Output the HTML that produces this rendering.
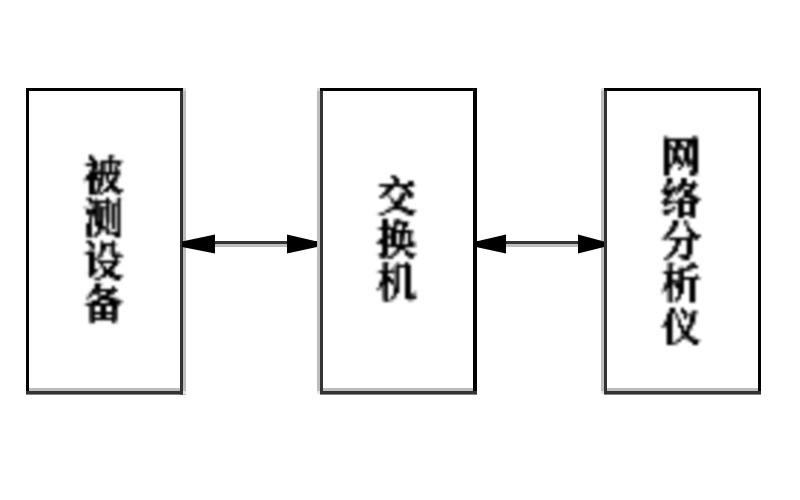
<!DOCTYPE html>
<html><head><meta charset="utf-8"><style>
html,body{margin:0;padding:0;background:#fff;width:800px;height:500px;overflow:hidden;font-family:"Liberation Serif",serif;}
svg{display:block;position:absolute;left:0;top:0;}
</style></head><body>
<svg width="800" height="500" viewBox="0 0 800 500">
<defs><filter id="bl" x="-5%" y="-5%" width="110%" height="110%"><feGaussianBlur stdDeviation="0.8"/></filter></defs>
<rect x="0" y="0" width="800" height="500" fill="#fff"/>
<g shape-rendering="crispEdges">
<!-- box1 -->
<rect x="183" y="91" width="3" height="300" fill="#bdbdbd"/>
<rect x="183" y="88" width="3" height="3" fill="#d8d8d8"/>
<rect x="183" y="391" width="3" height="3" fill="#e4e4e4"/>
<rect x="29" y="388" width="151" height="3" fill="#bdbdbd"/>
<rect x="26" y="88" width="157" height="3" fill="#000"/>
<rect x="26" y="88" width="3" height="303" fill="#000"/>
<rect x="180" y="91" width="3" height="300" fill="#333"/>
<!-- box2 -->
<rect x="317" y="91" width="3" height="300" fill="#bdbdbd"/>
<rect x="317" y="88" width="3" height="3" fill="#d8d8d8"/>
<rect x="317" y="391" width="3" height="3" fill="#e4e4e4"/>
<rect x="323" y="388" width="150" height="3" fill="#bdbdbd"/>
<rect x="320" y="88" width="157" height="3" fill="#000"/>
<rect x="320" y="91" width="3" height="300" fill="#333"/>
<rect x="473" y="88" width="4" height="303" fill="#000"/>
<!-- box3 -->
<rect x="601" y="91" width="3" height="300" fill="#bdbdbd"/>
<rect x="601" y="88" width="3" height="3" fill="#d8d8d8"/>
<rect x="601" y="391" width="3" height="3" fill="#e4e4e4"/>
<rect x="607" y="388" width="151" height="3" fill="#bdbdbd"/>
<rect x="604" y="88" width="157" height="3" fill="#000"/>
<rect x="604" y="91" width="3" height="300" fill="#333"/>
<rect x="758" y="88" width="3" height="303" fill="#000"/>
<!-- arrow lines -->
<rect x="186" y="241" width="131" height="3" fill="#333"/>
<rect x="186" y="244" width="131" height="3" fill="#bdbdbd"/>
<rect x="477" y="241" width="124" height="3" fill="#333"/>
<rect x="477" y="244" width="124" height="3" fill="#bdbdbd"/>
</g>
<rect x="26" y="391" width="160" height="3.6" fill="#333"/>
<rect x="320" y="391" width="157" height="3.6" fill="#333"/>
<rect x="604" y="391" width="157" height="3.6" fill="#333"/>
<rect x="180" y="391" width="3" height="3.6" fill="#333"/>
<rect x="183" y="391" width="3" height="3.6" fill="#e4e4e4"/>
<g fill="#000">
<polygon points="182,241.5 215,234.5 215,253.5 182,247"/>
<polygon points="287,234.5 287,253.5 317,247 317,241.5"/>
<polygon points="476,241.5 506,234.5 506,253.5 476,247"/>
<polygon points="578,234.5 578,253.5 604,247 604,241.5"/>
</g>
<g fill="#000" filter="url(#bl)">
<path fill-opacity="0.1" d="M106.16 154.80h2.86v2.86h-2.86zM106.16 157.66h2.86v2.86h-2.86zM89.01 160.51h2.86v2.86h-2.86zM106.16 163.37h2.86v2.86h-2.86zM106.16 166.23h2.86v2.86h-2.86zM106.16 169.09h2.86v2.86h-2.86zM103.30 177.66h2.86v2.86h-2.86zM94.73 180.51h2.86v2.86h-2.86zM114.73 197.60h2.86v2.86h-2.86zM120.44 197.60h2.86v2.86h-2.86zM103.30 217.60h2.86v2.86h-2.86zM111.87 234.74h2.86v2.86h-2.86zM111.87 257.54h2.86v2.86h-2.86zM97.59 268.97h2.86v2.86h-2.86zM86.16 271.83h2.86v2.86h-2.86zM97.59 274.69h2.86v2.86h-2.86zM106.16 274.69h2.86v2.86h-2.86zM91.87 277.54h2.86v2.86h-2.86zM100.44 277.54h2.86v2.86h-2.86zM91.87 286.06h2.86v2.86h-2.86zM376.50 183.97h2.86v2.86h-2.86zM402.21 189.69h2.86v2.86h-2.86zM390.79 195.40h2.86v2.86h-2.86zM382.21 209.69h2.86v2.86h-2.86zM385.07 212.54h2.86v2.86h-2.86zM376.50 238.65h2.86v2.86h-2.86zM379.36 244.36h2.86v2.86h-2.86zM393.64 261.90h2.86v2.86h-2.86zM387.93 281.90h2.86v2.86h-2.86zM390.79 293.33h2.86v2.86h-2.86zM689.57 147.13h2.86v2.86h-2.86zM678.14 149.99h2.86v2.86h-2.86zM678.14 164.27h2.86v2.86h-2.86zM681.00 189.43h2.86v2.86h-2.86zM692.43 189.43h2.86v2.86h-2.86zM672.43 192.29h2.86v2.86h-2.86zM675.29 206.57h2.86v2.86h-2.86zM661.00 212.29h2.86v2.86h-2.86zM672.43 276.89h2.86v2.86h-2.86zM675.29 310.61h2.86v2.86h-2.86zM675.29 319.19h2.86v2.86h-2.86zM686.71 322.04h2.86v2.86h-2.86z"/>
<path fill-opacity="0.2" d="M111.87 157.66h2.86v2.86h-2.86zM83.30 163.37h2.86v2.86h-2.86zM111.87 163.37h2.86v2.86h-2.86zM111.87 166.23h2.86v2.86h-2.86zM111.87 169.09h2.86v2.86h-2.86zM83.30 180.51h2.86v2.86h-2.86zM100.44 186.23h2.86v2.86h-2.86zM86.16 206.17h2.86v2.86h-2.86zM97.59 266.11h2.86v2.86h-2.86zM117.59 297.49h2.86v2.86h-2.86zM83.30 303.20h2.86v2.86h-2.86zM413.64 183.97h2.86v2.86h-2.86zM390.79 209.69h2.86v2.86h-2.86zM376.50 212.54h2.86v2.86h-2.86zM407.93 221.51h2.86v2.86h-2.86zM410.79 235.79h2.86v2.86h-2.86zM410.79 238.65h2.86v2.86h-2.86zM405.07 247.22h2.86v2.86h-2.86zM402.21 250.08h2.86v2.86h-2.86zM376.50 252.94h2.86v2.86h-2.86zM396.50 252.94h2.86v2.86h-2.86zM387.93 261.90h2.86v2.86h-2.86zM407.93 261.90h2.86v2.86h-2.86zM666.71 135.70h2.86v2.86h-2.86zM672.43 183.71h2.86v2.86h-2.86zM661.00 192.29h2.86v2.86h-2.86zM669.57 206.57h2.86v2.86h-2.86zM678.14 220.30h2.86v2.86h-2.86zM678.14 265.46h2.86v2.86h-2.86zM661.00 271.17h2.86v2.86h-2.86zM672.43 299.74h2.86v2.86h-2.86zM666.71 310.61h2.86v2.86h-2.86zM689.57 310.61h2.86v2.86h-2.86zM695.29 313.47h2.86v2.86h-2.86zM683.86 327.76h2.86v2.86h-2.86z"/>
<path fill-opacity="0.3" d="M91.87 154.80h2.86v2.86h-2.86zM111.87 174.80h2.86v2.86h-2.86zM114.73 200.46h2.86v2.86h-2.86zM109.01 203.31h2.86v2.86h-2.86zM83.30 206.17h2.86v2.86h-2.86zM109.01 206.17h2.86v2.86h-2.86zM114.73 206.17h2.86v2.86h-2.86zM109.01 209.03h2.86v2.86h-2.86zM114.73 209.03h2.86v2.86h-2.86zM103.30 211.89h2.86v2.86h-2.86zM109.01 211.89h2.86v2.86h-2.86zM114.73 211.89h2.86v2.86h-2.86zM103.30 214.74h2.86v2.86h-2.86zM109.01 214.74h2.86v2.86h-2.86zM114.73 214.74h2.86v2.86h-2.86zM109.01 217.60h2.86v2.86h-2.86zM114.73 217.60h2.86v2.86h-2.86zM109.01 220.46h2.86v2.86h-2.86zM114.73 220.46h2.86v2.86h-2.86zM114.73 223.31h2.86v2.86h-2.86zM114.73 226.17h2.86v2.86h-2.86zM109.01 229.03h2.86v2.86h-2.86zM114.73 229.03h2.86v2.86h-2.86zM89.01 246.11h2.86v2.86h-2.86zM83.30 251.83h2.86v2.86h-2.86zM94.73 271.83h2.86v2.86h-2.86zM91.87 274.69h2.86v2.86h-2.86zM100.44 283.20h2.86v2.86h-2.86zM86.16 294.63h2.86v2.86h-2.86zM89.01 300.34h2.86v2.86h-2.86zM399.36 186.83h2.86v2.86h-2.86zM387.93 192.54h2.86v2.86h-2.86zM399.36 209.69h2.86v2.86h-2.86zM376.50 227.22h2.86v2.86h-2.86zM402.21 241.51h2.86v2.86h-2.86zM376.50 270.47h2.86v2.86h-2.86zM379.36 279.04h2.86v2.86h-2.86zM379.36 287.61h2.86v2.86h-2.86zM413.64 290.47h2.86v2.86h-2.86zM390.79 299.04h2.86v2.86h-2.86zM410.79 299.04h2.86v2.86h-2.86zM669.57 167.13h2.86v2.86h-2.86zM672.43 198.00h2.86v2.86h-2.86zM661.00 209.43h2.86v2.86h-2.86zM672.43 209.43h2.86v2.86h-2.86zM686.71 220.30h2.86v2.86h-2.86zM686.71 234.59h2.86v2.86h-2.86zM689.57 254.59h2.86v2.86h-2.86zM681.00 265.46h2.86v2.86h-2.86zM661.00 288.31h2.86v2.86h-2.86zM661.00 291.17h2.86v2.86h-2.86zM678.14 316.33h2.86v2.86h-2.86zM678.14 336.33h2.86v2.86h-2.86zM686.71 339.19h2.86v2.86h-2.86z"/>
<path fill-opacity="0.4" d="M97.59 163.37h2.86v2.86h-2.86zM103.30 174.80h2.86v2.86h-2.86zM117.59 174.80h2.86v2.86h-2.86zM83.30 177.66h2.86v2.86h-2.86zM89.01 203.31h2.86v2.86h-2.86zM103.30 209.03h2.86v2.86h-2.86zM103.30 229.03h2.86v2.86h-2.86zM114.73 243.26h2.86v2.86h-2.86zM109.01 246.11h2.86v2.86h-2.86zM91.87 248.97h2.86v2.86h-2.86zM109.01 248.97h2.86v2.86h-2.86zM97.59 251.83h2.86v2.86h-2.86zM109.01 251.83h2.86v2.86h-2.86zM111.87 268.97h2.86v2.86h-2.86zM111.87 277.54h2.86v2.86h-2.86zM109.01 294.63h2.86v2.86h-2.86zM106.16 300.34h2.86v2.86h-2.86zM114.73 320.34h2.86v2.86h-2.86zM399.36 218.65h2.86v2.86h-2.86zM396.50 224.36h2.86v2.86h-2.86zM387.93 232.94h2.86v2.86h-2.86zM410.79 232.94h2.86v2.86h-2.86zM413.64 241.51h2.86v2.86h-2.86zM407.93 250.08h2.86v2.86h-2.86zM407.93 299.04h2.86v2.86h-2.86zM681.00 158.56h2.86v2.86h-2.86zM669.57 161.41h2.86v2.86h-2.86zM675.29 161.41h2.86v2.86h-2.86zM683.86 161.41h2.86v2.86h-2.86zM695.29 172.84h2.86v2.86h-2.86zM666.71 186.57h5.71v2.86h-5.71zM681.00 195.14h2.86v2.86h-2.86zM695.29 195.14h2.86v2.86h-2.86zM666.71 203.71h2.86v2.86h-2.86zM661.00 237.44h2.86v2.86h-2.86zM666.71 237.44h2.86v2.86h-2.86zM672.43 262.60h2.86v2.86h-2.86zM663.86 319.19h2.86v2.86h-2.86zM698.14 339.19h2.86v2.86h-2.86z"/>
<path fill-opacity="0.5" d="M120.44 160.51h2.86v2.86h-2.86zM89.01 169.09h2.86v2.86h-2.86zM114.73 191.94h2.86v2.86h-2.86zM94.73 197.60h2.86v2.86h-2.86zM91.87 203.31h2.86v2.86h-2.86zM100.44 229.03h2.86v2.86h-2.86zM91.87 234.74h2.86v2.86h-2.86zM117.59 251.83h2.86v2.86h-2.86zM97.59 257.54h2.86v2.86h-2.86zM100.44 266.11h2.86v2.86h-2.86zM120.44 300.34h2.86v2.86h-2.86zM399.36 192.54h2.86v2.86h-2.86zM387.93 206.83h2.86v2.86h-2.86zM405.07 212.54h2.86v2.86h-2.86zM387.93 224.36h2.86v2.86h-2.86zM413.64 244.36h2.86v2.86h-2.86zM393.64 264.76h2.86v2.86h-2.86zM390.79 267.61h5.71v2.86h-5.71zM393.64 273.33h2.86v2.86h-2.86zM393.64 276.19h2.86v2.86h-2.86zM393.64 279.04h2.86v2.86h-2.86zM413.64 293.33h2.86v2.86h-2.86zM393.64 296.19h2.86v2.86h-2.86zM382.21 299.04h2.86v2.86h-2.86zM387.93 299.04h2.86v2.86h-2.86zM695.29 135.70h2.86v2.86h-2.86zM663.86 183.71h2.86v2.86h-2.86zM686.71 223.16h2.86v2.86h-2.86zM675.29 226.01h2.86v2.86h-2.86zM666.71 262.60h2.86v2.86h-2.86zM666.71 265.46h2.86v2.86h-2.86zM666.71 268.31h2.86v2.86h-2.86zM689.57 268.31h2.86v2.86h-2.86zM698.14 276.89h2.86v2.86h-2.86zM666.71 288.31h2.86v2.86h-2.86zM666.71 291.17h2.86v2.86h-2.86zM666.71 294.03h2.86v2.86h-2.86zM666.71 296.89h2.86v2.86h-2.86zM666.71 299.74h2.86v2.86h-2.86zM689.57 327.76h2.86v2.86h-2.86zM692.43 336.33h2.86v2.86h-2.86zM675.29 342.04h2.86v2.86h-2.86z"/>
<path fill-opacity="0.6" d="M111.87 154.80h2.86v2.86h-2.86zM114.73 163.37h2.86v2.86h-2.86zM97.59 169.09h2.86v2.86h-2.86zM117.59 169.09h2.86v2.86h-2.86zM114.73 180.51h2.86v2.86h-2.86zM94.73 189.09h2.86v2.86h-2.86zM97.59 191.94h2.86v2.86h-2.86zM91.87 214.74h2.86v2.86h-2.86zM89.01 248.97h2.86v2.86h-2.86zM114.73 251.83h2.86v2.86h-2.86zM117.59 260.40h2.86v2.86h-2.86zM89.01 291.77h2.86v2.86h-2.86zM86.16 297.49h2.86v2.86h-2.86zM114.73 297.49h2.86v2.86h-2.86zM385.07 186.83h2.86v2.86h-2.86zM396.50 198.26h2.86v2.86h-2.86zM390.79 201.11h2.86v2.86h-2.86zM413.64 209.69h2.86v2.86h-2.86zM393.64 218.65h2.86v2.86h-2.86zM393.64 250.08h2.86v2.86h-2.86zM390.79 252.94h2.86v2.86h-2.86zM413.64 252.94h2.86v2.86h-2.86zM385.07 255.79h2.86v2.86h-2.86zM396.50 261.90h2.86v2.86h-2.86zM393.64 281.90h2.86v2.86h-2.86zM689.57 164.27h2.86v2.86h-2.86zM675.29 189.43h2.86v2.86h-2.86zM669.57 195.14h2.86v2.86h-2.86zM672.43 200.86h2.86v2.86h-2.86zM692.43 237.44h2.86v2.86h-2.86zM695.29 310.61h2.86v2.86h-2.86zM686.71 313.47h2.86v2.86h-2.86zM692.43 322.04h2.86v2.86h-2.86zM661.00 324.90h2.86v2.86h-2.86zM681.00 333.47h2.86v2.86h-2.86zM675.29 339.19h2.86v2.86h-2.86z"/>
<path fill-opacity="0.7" d="M103.30 163.37h2.86v2.86h-2.86zM103.30 166.23h2.86v2.86h-2.86zM94.73 169.09h2.86v2.86h-2.86zM103.30 169.09h2.86v2.86h-2.86zM106.16 180.51h2.86v2.86h-2.86zM86.16 197.60h2.86v2.86h-2.86zM91.87 206.17h2.86v2.86h-2.86zM106.16 226.17h2.86v2.86h-2.86zM109.01 231.89h2.86v2.86h-2.86zM103.30 248.97h2.86v2.86h-2.86zM100.44 254.69h2.86v2.86h-2.86zM120.44 274.69h2.86v2.86h-2.86zM97.59 294.63h2.86v2.86h-2.86zM117.59 303.20h2.86v2.86h-2.86zM89.01 320.34h2.86v2.86h-2.86zM382.21 195.40h2.86v2.86h-2.86zM387.93 195.40h2.86v2.86h-2.86zM410.79 195.40h2.86v2.86h-2.86zM399.36 203.97h2.86v2.86h-2.86zM410.79 230.08h2.86v2.86h-2.86zM402.21 238.65h2.86v2.86h-2.86zM379.36 255.79h2.86v2.86h-2.86zM382.21 261.90h2.86v2.86h-2.86zM382.21 264.76h2.86v2.86h-2.86zM382.21 267.61h2.86v2.86h-2.86zM376.50 287.61h2.86v2.86h-2.86zM382.21 287.61h2.86v2.86h-2.86zM382.21 290.47h2.86v2.86h-2.86zM382.21 293.33h2.86v2.86h-2.86zM382.21 296.19h2.86v2.86h-2.86zM663.86 135.70h2.86v2.86h-2.86zM675.29 192.29h2.86v2.86h-2.86zM698.14 198.00h2.86v2.86h-2.86zM661.00 200.86h2.86v2.86h-2.86zM683.86 223.16h2.86v2.86h-2.86zM669.57 226.01h2.86v2.86h-2.86zM663.86 234.59h2.86v2.86h-2.86zM678.14 243.16h2.86v2.86h-2.86zM678.14 254.59h2.86v2.86h-2.86zM666.71 257.44h2.86v2.86h-2.86zM681.00 257.44h2.86v2.86h-2.86zM695.29 274.03h2.86v2.86h-2.86zM663.86 282.60h2.86v2.86h-2.86zM672.43 282.60h2.86v2.86h-2.86zM675.29 299.74h2.86v2.86h-2.86zM675.29 316.33h2.86v2.86h-2.86zM663.86 324.90h2.86v2.86h-2.86zM683.86 336.33h2.86v2.86h-2.86z"/>
<path fill-opacity="0.8" d="M109.01 200.46h2.86v2.86h-2.86zM114.73 203.31h2.86v2.86h-2.86zM103.30 206.17h2.86v2.86h-2.86zM86.16 234.74h2.86v2.86h-2.86zM100.44 240.40h2.86v2.86h-2.86zM120.44 254.69h2.86v2.86h-2.86zM94.73 257.54h2.86v2.86h-2.86zM111.87 291.77h2.86v2.86h-2.86zM89.01 306.06h2.86v2.86h-2.86zM89.01 308.91h2.86v2.86h-2.86zM89.01 311.77h2.86v2.86h-2.86zM89.01 314.63h2.86v2.86h-2.86zM89.01 317.49h2.86v2.86h-2.86zM405.07 192.54h2.86v2.86h-2.86zM405.07 206.83h2.86v2.86h-2.86zM376.50 241.51h2.86v2.86h-2.86zM407.93 255.79h2.86v2.86h-2.86zM393.64 270.47h2.86v2.86h-2.86zM382.21 284.76h2.86v2.86h-2.86zM393.64 284.76h2.86v2.86h-2.86zM410.79 293.33h2.86v2.86h-2.86zM669.57 144.27h2.86v2.86h-2.86zM681.00 144.27h2.86v2.86h-2.86zM678.14 155.70h2.86v2.86h-2.86zM689.57 158.56h2.86v2.86h-2.86zM686.71 164.27h2.86v2.86h-2.86zM695.29 183.71h2.86v2.86h-2.86zM675.29 186.57h2.86v2.86h-2.86zM661.00 189.43h2.86v2.86h-2.86zM666.71 198.00h2.86v2.86h-2.86zM689.57 215.14h2.86v2.86h-2.86zM666.71 254.59h2.86v2.86h-2.86zM689.57 262.60h2.86v2.86h-2.86zM678.14 268.31h2.86v2.86h-2.86zM678.14 274.03h2.86v2.86h-2.86zM678.14 276.89h2.86v2.86h-2.86zM678.14 296.89h2.86v2.86h-2.86zM672.43 342.04h2.86v2.86h-2.86z"/>
<path fill-opacity="0.9" d="M114.73 166.23h2.86v2.86h-2.86zM97.59 180.51h2.86v2.86h-2.86zM111.87 189.09h2.86v2.86h-2.86zM120.44 189.09h2.86v2.86h-2.86zM97.59 203.31h2.86v2.86h-2.86zM97.59 206.17h2.86v2.86h-2.86zM89.01 209.03h2.86v2.86h-2.86zM97.59 209.03h2.86v2.86h-2.86zM97.59 211.89h2.86v2.86h-2.86zM89.01 214.74h2.86v2.86h-2.86zM97.59 214.74h2.86v2.86h-2.86zM97.59 217.60h2.86v2.86h-2.86zM106.16 223.31h2.86v2.86h-2.86zM86.16 229.03h2.86v2.86h-2.86zM94.73 231.89h2.86v2.86h-2.86zM94.73 234.74h2.86v2.86h-2.86zM86.16 240.40h2.86v2.86h-2.86zM94.73 277.54h2.86v2.86h-2.86zM94.73 291.77h5.71v2.86h-5.71zM114.73 308.91h2.86v2.86h-2.86zM114.73 311.77h2.86v2.86h-2.86zM114.73 314.63h2.86v2.86h-2.86zM114.73 317.49h2.86v2.86h-2.86zM393.64 181.11h2.86v2.86h-2.86zM402.21 198.26h2.86v2.86h-2.86zM379.36 212.54h5.71v2.86h-5.71zM387.93 235.79h2.86v2.86h-2.86zM402.21 235.79h2.86v2.86h-2.86zM387.93 244.36h2.86v2.86h-2.86zM390.79 255.79h2.86v2.86h-2.86zM692.43 135.70h2.86v2.86h-2.86zM689.57 144.27h2.86v2.86h-2.86zM669.57 147.13h2.86v2.86h-2.86zM678.14 147.13h5.71v2.86h-5.71zM672.43 152.84h2.86v2.86h-2.86zM689.57 169.99h2.86v2.86h-2.86zM678.14 183.71h2.86v2.86h-2.86zM689.57 192.29h2.86v2.86h-2.86zM678.14 198.00h2.86v2.86h-2.86zM689.57 198.00h2.86v2.86h-2.86zM675.29 200.86h2.86v2.86h-2.86zM666.71 212.29h2.86v2.86h-2.86zM698.14 234.59h2.86v2.86h-2.86zM663.86 237.44h2.86v2.86h-2.86zM672.43 246.01h2.86v2.86h-2.86zM663.86 257.44h2.86v2.86h-2.86zM686.71 268.31h2.86v2.86h-2.86zM675.29 279.74h5.71v2.86h-5.71zM663.86 288.31h2.86v2.86h-2.86zM675.29 313.47h2.86v2.86h-2.86zM689.57 313.47h2.86v2.86h-2.86z"/>
<path d="M89.01 154.80h2.86v2.86h-2.86zM109.01 154.80h2.86v2.86h-2.86zM89.01 157.66h5.71v2.86h-5.71zM109.01 157.66h2.86v2.86h-2.86zM91.87 160.51h5.71v2.86h-5.71zM100.44 160.51h20.00v2.86h-20.00zM86.16 163.37h11.43v2.86h-11.43zM100.44 163.37h2.86v2.86h-2.86zM109.01 163.37h2.86v2.86h-2.86zM117.59 163.37h2.86v2.86h-2.86zM91.87 166.23h5.71v2.86h-5.71zM100.44 166.23h2.86v2.86h-2.86zM109.01 166.23h2.86v2.86h-2.86zM91.87 169.09h2.86v2.86h-2.86zM100.44 169.09h2.86v2.86h-2.86zM109.01 169.09h2.86v2.86h-2.86zM114.73 169.09h2.86v2.86h-2.86zM89.01 171.94h31.43v2.86h-31.43zM86.16 174.80h11.43v2.86h-11.43zM100.44 174.80h2.86v2.86h-2.86zM106.16 174.80h2.86v2.86h-2.86zM114.73 174.80h2.86v2.86h-2.86zM86.16 177.66h17.14v2.86h-17.14zM106.16 177.66h2.86v2.86h-2.86zM111.87 177.66h5.71v2.86h-5.71zM89.01 180.51h5.71v2.86h-5.71zM100.44 180.51h2.86v2.86h-2.86zM109.01 180.51h5.71v2.86h-5.71zM89.01 183.37h5.71v2.86h-5.71zM97.59 183.37h5.71v2.86h-5.71zM109.01 183.37h5.71v2.86h-5.71zM89.01 186.23h5.71v2.86h-5.71zM97.59 186.23h2.86v2.86h-2.86zM106.16 186.23h11.43v2.86h-11.43zM89.01 189.09h5.71v2.86h-5.71zM97.59 189.09h2.86v2.86h-2.86zM103.30 189.09h5.71v2.86h-5.71zM114.73 189.09h5.71v2.86h-5.71zM89.01 191.94h8.57v2.86h-8.57zM100.44 191.94h2.86v2.86h-2.86zM117.59 191.94h2.86v2.86h-2.86zM89.01 197.60h2.86v2.86h-2.86zM106.16 197.60h2.86v2.86h-2.86zM117.59 197.60h2.86v2.86h-2.86zM89.01 200.46h20.00v2.86h-20.00zM117.59 200.46h2.86v2.86h-2.86zM94.73 203.31h2.86v2.86h-2.86zM106.16 203.31h2.86v2.86h-2.86zM111.87 203.31h2.86v2.86h-2.86zM117.59 203.31h2.86v2.86h-2.86zM94.73 206.17h2.86v2.86h-2.86zM100.44 206.17h2.86v2.86h-2.86zM106.16 206.17h2.86v2.86h-2.86zM111.87 206.17h2.86v2.86h-2.86zM117.59 206.17h2.86v2.86h-2.86zM86.16 209.03h2.86v2.86h-2.86zM91.87 209.03h5.71v2.86h-5.71zM100.44 209.03h2.86v2.86h-2.86zM106.16 209.03h2.86v2.86h-2.86zM111.87 209.03h2.86v2.86h-2.86zM117.59 209.03h2.86v2.86h-2.86zM86.16 211.89h11.43v2.86h-11.43zM100.44 211.89h2.86v2.86h-2.86zM106.16 211.89h2.86v2.86h-2.86zM111.87 211.89h2.86v2.86h-2.86zM117.59 211.89h2.86v2.86h-2.86zM94.73 214.74h2.86v2.86h-2.86zM100.44 214.74h2.86v2.86h-2.86zM106.16 214.74h2.86v2.86h-2.86zM111.87 214.74h2.86v2.86h-2.86zM117.59 214.74h2.86v2.86h-2.86zM89.01 217.60h2.86v2.86h-2.86zM94.73 217.60h2.86v2.86h-2.86zM100.44 217.60h2.86v2.86h-2.86zM106.16 217.60h2.86v2.86h-2.86zM111.87 217.60h2.86v2.86h-2.86zM117.59 217.60h2.86v2.86h-2.86zM89.01 220.46h2.86v2.86h-2.86zM94.73 220.46h8.57v2.86h-8.57zM106.16 220.46h2.86v2.86h-2.86zM111.87 220.46h2.86v2.86h-2.86zM117.59 220.46h2.86v2.86h-2.86zM86.16 223.31h5.71v2.86h-5.71zM94.73 223.31h8.57v2.86h-8.57zM111.87 223.31h2.86v2.86h-2.86zM117.59 223.31h2.86v2.86h-2.86zM86.16 226.17h5.71v2.86h-5.71zM97.59 226.17h8.57v2.86h-8.57zM111.87 226.17h2.86v2.86h-2.86zM117.59 226.17h2.86v2.86h-2.86zM89.01 229.03h2.86v2.86h-2.86zM97.59 229.03h2.86v2.86h-2.86zM106.16 229.03h2.86v2.86h-2.86zM117.59 229.03h2.86v2.86h-2.86zM86.16 231.89h5.71v2.86h-5.71zM97.59 231.89h2.86v2.86h-2.86zM106.16 231.89h2.86v2.86h-2.86zM111.87 231.89h8.57v2.86h-8.57zM89.01 234.74h2.86v2.86h-2.86zM114.73 234.74h5.71v2.86h-5.71zM89.01 240.40h2.86v2.86h-2.86zM111.87 240.40h2.86v2.86h-2.86zM89.01 243.26h5.71v2.86h-5.71zM100.44 243.26h14.29v2.86h-14.29zM91.87 246.11h2.86v2.86h-2.86zM100.44 246.11h5.71v2.86h-5.71zM111.87 246.11h2.86v2.86h-2.86zM100.44 248.97h2.86v2.86h-2.86zM111.87 248.97h2.86v2.86h-2.86zM86.16 251.83h8.57v2.86h-8.57zM100.44 251.83h2.86v2.86h-2.86zM111.87 251.83h2.86v2.86h-2.86zM89.01 254.69h5.71v2.86h-5.71zM97.59 254.69h2.86v2.86h-2.86zM111.87 254.69h8.57v2.86h-8.57zM89.01 257.54h5.71v2.86h-5.71zM114.73 257.54h2.86v2.86h-2.86zM89.01 260.40h5.71v2.86h-5.71zM97.59 260.40h20.00v2.86h-20.00zM89.01 263.26h5.71v2.86h-5.71zM100.44 263.26h2.86v2.86h-2.86zM111.87 263.26h5.71v2.86h-5.71zM89.01 266.11h5.71v2.86h-5.71zM103.30 266.11h2.86v2.86h-2.86zM109.01 266.11h5.71v2.86h-5.71zM89.01 268.97h8.57v2.86h-8.57zM103.30 268.97h8.57v2.86h-8.57zM89.01 271.83h5.71v2.86h-5.71zM103.30 271.83h11.43v2.86h-11.43zM89.01 274.69h2.86v2.86h-2.86zM100.44 274.69h5.71v2.86h-5.71zM109.01 274.69h11.43v2.86h-11.43zM97.59 277.54h2.86v2.86h-2.86zM114.73 277.54h5.71v2.86h-5.71zM94.73 283.20h5.71v2.86h-5.71zM94.73 286.06h5.71v2.86h-5.71zM111.87 286.06h2.86v2.86h-2.86zM91.87 288.91h25.71v2.86h-25.71zM91.87 291.77h2.86v2.86h-2.86zM106.16 291.77h5.71v2.86h-5.71zM89.01 294.63h2.86v2.86h-2.86zM100.44 294.63h8.57v2.86h-8.57zM97.59 297.49h17.14v2.86h-17.14zM91.87 300.34h8.57v2.86h-8.57zM109.01 300.34h11.43v2.86h-11.43zM86.16 303.20h31.43v2.86h-31.43zM91.87 306.06h2.86v2.86h-2.86zM100.44 306.06h5.71v2.86h-5.71zM111.87 306.06h5.71v2.86h-5.71zM91.87 308.91h2.86v2.86h-2.86zM100.44 308.91h5.71v2.86h-5.71zM111.87 308.91h2.86v2.86h-2.86zM91.87 311.77h22.86v2.86h-22.86zM91.87 314.63h2.86v2.86h-2.86zM100.44 314.63h5.71v2.86h-5.71zM111.87 314.63h2.86v2.86h-2.86zM91.87 317.49h22.86v2.86h-22.86zM91.87 320.34h2.86v2.86h-2.86zM111.87 320.34h2.86v2.86h-2.86zM390.79 175.40h5.71v2.86h-5.71zM393.64 178.26h5.71v2.86h-5.71zM396.50 181.11h2.86v2.86h-2.86zM407.93 181.11h5.71v2.86h-5.71zM379.36 183.97h34.29v2.86h-34.29zM387.93 186.83h5.71v2.86h-5.71zM402.21 186.83h5.71v2.86h-5.71zM385.07 189.69h5.71v2.86h-5.71zM405.07 189.69h5.71v2.86h-5.71zM382.21 192.54h5.71v2.86h-5.71zM402.21 192.54h2.86v2.86h-2.86zM407.93 192.54h5.71v2.86h-5.71zM379.36 195.40h2.86v2.86h-2.86zM399.36 195.40h5.71v2.86h-5.71zM407.93 195.40h2.86v2.86h-2.86zM390.79 198.26h2.86v2.86h-2.86zM399.36 198.26h2.86v2.86h-2.86zM393.64 201.11h8.57v2.86h-8.57zM393.64 203.97h5.71v2.86h-5.71zM390.79 206.83h14.29v2.86h-14.29zM385.07 209.69h5.71v2.86h-5.71zM402.21 209.69h11.43v2.86h-11.43zM407.93 212.54h5.71v2.86h-5.71zM382.21 218.65h5.71v2.86h-5.71zM396.50 218.65h2.86v2.86h-2.86zM382.21 221.51h5.71v2.86h-5.71zM393.64 221.51h14.29v2.86h-14.29zM382.21 224.36h5.71v2.86h-5.71zM393.64 224.36h2.86v2.86h-2.86zM402.21 224.36h5.71v2.86h-5.71zM379.36 227.22h17.14v2.86h-17.14zM402.21 227.22h2.86v2.86h-2.86zM382.21 230.08h5.71v2.86h-5.71zM390.79 230.08h20.00v2.86h-20.00zM382.21 232.94h5.71v2.86h-5.71zM390.79 232.94h5.71v2.86h-5.71zM399.36 232.94h5.71v2.86h-5.71zM407.93 232.94h2.86v2.86h-2.86zM382.21 235.79h5.71v2.86h-5.71zM390.79 235.79h5.71v2.86h-5.71zM399.36 235.79h2.86v2.86h-2.86zM407.93 235.79h2.86v2.86h-2.86zM379.36 238.65h8.57v2.86h-8.57zM390.79 238.65h5.71v2.86h-5.71zM399.36 238.65h2.86v2.86h-2.86zM407.93 238.65h2.86v2.86h-2.86zM379.36 241.51h8.57v2.86h-8.57zM390.79 241.51h5.71v2.86h-5.71zM399.36 241.51h2.86v2.86h-2.86zM407.93 241.51h5.71v2.86h-5.71zM382.21 244.36h5.71v2.86h-5.71zM390.79 244.36h22.86v2.86h-22.86zM382.21 247.22h5.71v2.86h-5.71zM396.50 247.22h8.57v2.86h-8.57zM382.21 250.08h5.71v2.86h-5.71zM396.50 250.08h2.86v2.86h-2.86zM405.07 250.08h2.86v2.86h-2.86zM379.36 252.94h8.57v2.86h-8.57zM393.64 252.94h2.86v2.86h-2.86zM405.07 252.94h8.57v2.86h-8.57zM382.21 255.79h2.86v2.86h-2.86zM387.93 255.79h2.86v2.86h-2.86zM410.79 255.79h2.86v2.86h-2.86zM385.07 261.90h2.86v2.86h-2.86zM405.07 261.90h2.86v2.86h-2.86zM385.07 264.76h2.86v2.86h-2.86zM396.50 264.76h14.29v2.86h-14.29zM385.07 267.61h2.86v2.86h-2.86zM396.50 267.61h2.86v2.86h-2.86zM405.07 267.61h5.71v2.86h-5.71zM379.36 270.47h14.29v2.86h-14.29zM396.50 270.47h2.86v2.86h-2.86zM405.07 270.47h5.71v2.86h-5.71zM382.21 273.33h5.71v2.86h-5.71zM396.50 273.33h2.86v2.86h-2.86zM405.07 273.33h5.71v2.86h-5.71zM382.21 276.19h8.57v2.86h-8.57zM396.50 276.19h2.86v2.86h-2.86zM405.07 276.19h5.71v2.86h-5.71zM382.21 279.04h11.43v2.86h-11.43zM396.50 279.04h2.86v2.86h-2.86zM405.07 279.04h5.71v2.86h-5.71zM379.36 281.90h8.57v2.86h-8.57zM390.79 281.90h2.86v2.86h-2.86zM396.50 281.90h2.86v2.86h-2.86zM405.07 281.90h5.71v2.86h-5.71zM379.36 284.76h2.86v2.86h-2.86zM385.07 284.76h2.86v2.86h-2.86zM396.50 284.76h2.86v2.86h-2.86zM405.07 284.76h5.71v2.86h-5.71zM385.07 287.61h2.86v2.86h-2.86zM393.64 287.61h5.71v2.86h-5.71zM405.07 287.61h5.71v2.86h-5.71zM385.07 290.47h2.86v2.86h-2.86zM393.64 290.47h5.71v2.86h-5.71zM405.07 290.47h5.71v2.86h-5.71zM385.07 293.33h2.86v2.86h-2.86zM393.64 293.33h2.86v2.86h-2.86zM405.07 293.33h5.71v2.86h-5.71zM385.07 296.19h2.86v2.86h-2.86zM390.79 296.19h2.86v2.86h-2.86zM405.07 296.19h11.43v2.86h-11.43zM385.07 299.04h2.86v2.86h-2.86zM663.86 138.56h34.29v2.86h-34.29zM663.86 141.41h5.71v2.86h-5.71zM675.29 141.41h5.71v2.86h-5.71zM686.71 141.41h11.43v2.86h-11.43zM663.86 144.27h5.71v2.86h-5.71zM675.29 144.27h5.71v2.86h-5.71zM686.71 144.27h2.86v2.86h-2.86zM692.43 144.27h5.71v2.86h-5.71zM663.86 147.13h5.71v2.86h-5.71zM672.43 147.13h5.71v2.86h-5.71zM683.86 147.13h5.71v2.86h-5.71zM692.43 147.13h5.71v2.86h-5.71zM663.86 149.99h5.71v2.86h-5.71zM672.43 149.99h5.71v2.86h-5.71zM683.86 149.99h5.71v2.86h-5.71zM692.43 149.99h5.71v2.86h-5.71zM663.86 152.84h5.71v2.86h-5.71zM675.29 152.84h2.86v2.86h-2.86zM683.86 152.84h5.71v2.86h-5.71zM692.43 152.84h5.71v2.86h-5.71zM663.86 155.70h5.71v2.86h-5.71zM672.43 155.70h5.71v2.86h-5.71zM683.86 155.70h5.71v2.86h-5.71zM692.43 155.70h5.71v2.86h-5.71zM663.86 158.56h5.71v2.86h-5.71zM672.43 158.56h8.57v2.86h-8.57zM683.86 158.56h5.71v2.86h-5.71zM692.43 158.56h5.71v2.86h-5.71zM663.86 161.41h5.71v2.86h-5.71zM672.43 161.41h2.86v2.86h-2.86zM678.14 161.41h5.71v2.86h-5.71zM686.71 161.41h11.43v2.86h-11.43zM663.86 164.27h8.57v2.86h-8.57zM681.00 164.27h2.86v2.86h-2.86zM692.43 164.27h5.71v2.86h-5.71zM663.86 167.13h5.71v2.86h-5.71zM678.14 167.13h2.86v2.86h-2.86zM692.43 167.13h5.71v2.86h-5.71zM663.86 169.99h5.71v2.86h-5.71zM692.43 169.99h5.71v2.86h-5.71zM663.86 172.84h5.71v2.86h-5.71zM689.57 172.84h5.71v2.86h-5.71zM666.71 178.00h5.71v2.86h-5.71zM681.00 178.00h5.71v2.86h-5.71zM666.71 180.86h5.71v2.86h-5.71zM681.00 180.86h5.71v2.86h-5.71zM692.43 180.86h2.86v2.86h-2.86zM666.71 183.71h2.86v2.86h-2.86zM681.00 183.71h14.29v2.86h-14.29zM663.86 186.57h2.86v2.86h-2.86zM672.43 186.57h2.86v2.86h-2.86zM678.14 186.57h5.71v2.86h-5.71zM689.57 186.57h5.71v2.86h-5.71zM663.86 189.43h11.43v2.86h-11.43zM678.14 189.43h2.86v2.86h-2.86zM683.86 189.43h8.57v2.86h-8.57zM663.86 192.29h8.57v2.86h-8.57zM683.86 192.29h5.71v2.86h-5.71zM666.71 195.14h2.86v2.86h-2.86zM683.86 195.14h11.43v2.86h-11.43zM663.86 198.00h2.86v2.86h-2.86zM681.00 198.00h2.86v2.86h-2.86zM692.43 198.00h5.71v2.86h-5.71zM663.86 200.86h8.57v2.86h-8.57zM678.14 200.86h20.00v2.86h-20.00zM663.86 203.71h2.86v2.86h-2.86zM678.14 203.71h5.71v2.86h-5.71zM689.57 203.71h5.71v2.86h-5.71zM672.43 206.57h2.86v2.86h-2.86zM678.14 206.57h5.71v2.86h-5.71zM689.57 206.57h5.71v2.86h-5.71zM663.86 209.43h8.57v2.86h-8.57zM678.14 209.43h5.71v2.86h-5.71zM689.57 209.43h5.71v2.86h-5.71zM663.86 212.29h2.86v2.86h-2.86zM678.14 212.29h17.14v2.86h-17.14zM678.14 215.14h5.71v2.86h-5.71zM692.43 215.14h2.86v2.86h-2.86zM672.43 220.30h5.71v2.86h-5.71zM683.86 220.30h2.86v2.86h-2.86zM672.43 223.16h5.71v2.86h-5.71zM672.43 226.01h2.86v2.86h-2.86zM686.71 226.01h2.86v2.86h-2.86zM669.57 228.87h5.71v2.86h-5.71zM686.71 228.87h5.71v2.86h-5.71zM666.71 231.73h5.71v2.86h-5.71zM689.57 231.73h5.71v2.86h-5.71zM666.71 234.59h2.86v2.86h-2.86zM689.57 234.59h8.57v2.86h-8.57zM669.57 237.44h22.86v2.86h-22.86zM695.29 237.44h2.86v2.86h-2.86zM675.29 240.30h5.71v2.86h-5.71zM686.71 240.30h5.71v2.86h-5.71zM675.29 243.16h2.86v2.86h-2.86zM686.71 243.16h5.71v2.86h-5.71zM675.29 246.01h2.86v2.86h-2.86zM686.71 246.01h5.71v2.86h-5.71zM672.43 248.87h5.71v2.86h-5.71zM686.71 248.87h5.71v2.86h-5.71zM669.57 251.73h5.71v2.86h-5.71zM686.71 251.73h5.71v2.86h-5.71zM669.57 254.59h2.86v2.86h-2.86zM681.00 254.59h8.57v2.86h-8.57zM683.86 257.44h5.71v2.86h-5.71zM669.57 262.60h2.86v2.86h-2.86zM692.43 262.60h2.86v2.86h-2.86zM669.57 265.46h2.86v2.86h-2.86zM686.71 265.46h11.43v2.86h-11.43zM669.57 268.31h2.86v2.86h-2.86zM681.00 268.31h5.71v2.86h-5.71zM663.86 271.17h20.00v2.86h-20.00zM666.71 274.03h5.71v2.86h-5.71zM681.00 274.03h2.86v2.86h-2.86zM666.71 276.89h5.71v2.86h-5.71zM681.00 276.89h17.14v2.86h-17.14zM666.71 279.74h8.57v2.86h-8.57zM681.00 279.74h2.86v2.86h-2.86zM689.57 279.74h5.71v2.86h-5.71zM666.71 282.60h5.71v2.86h-5.71zM675.29 282.60h8.57v2.86h-8.57zM689.57 282.60h5.71v2.86h-5.71zM663.86 285.46h8.57v2.86h-8.57zM675.29 285.46h8.57v2.86h-8.57zM689.57 285.46h5.71v2.86h-5.71zM669.57 288.31h2.86v2.86h-2.86zM678.14 288.31h5.71v2.86h-5.71zM689.57 288.31h5.71v2.86h-5.71zM669.57 291.17h2.86v2.86h-2.86zM678.14 291.17h5.71v2.86h-5.71zM689.57 291.17h5.71v2.86h-5.71zM669.57 294.03h2.86v2.86h-2.86zM678.14 294.03h2.86v2.86h-2.86zM689.57 294.03h5.71v2.86h-5.71zM669.57 296.89h2.86v2.86h-2.86zM675.29 296.89h2.86v2.86h-2.86zM689.57 296.89h5.71v2.86h-5.71zM669.57 299.74h2.86v2.86h-2.86zM689.57 299.74h5.71v2.86h-5.71zM669.57 307.76h5.71v2.86h-5.71zM681.00 307.76h2.86v2.86h-2.86zM669.57 310.61h5.71v2.86h-5.71zM681.00 310.61h5.71v2.86h-5.71zM692.43 310.61h2.86v2.86h-2.86zM666.71 313.47h5.71v2.86h-5.71zM683.86 313.47h2.86v2.86h-2.86zM692.43 313.47h2.86v2.86h-2.86zM666.71 316.33h5.71v2.86h-5.71zM683.86 316.33h2.86v2.86h-2.86zM689.57 316.33h5.71v2.86h-5.71zM666.71 319.19h5.71v2.86h-5.71zM678.14 319.19h2.86v2.86h-2.86zM689.57 319.19h5.71v2.86h-5.71zM663.86 322.04h8.57v2.86h-8.57zM678.14 322.04h2.86v2.86h-2.86zM689.57 322.04h2.86v2.86h-2.86zM666.71 324.90h5.71v2.86h-5.71zM678.14 324.90h5.71v2.86h-5.71zM686.71 324.90h5.71v2.86h-5.71zM666.71 327.76h5.71v2.86h-5.71zM681.00 327.76h2.86v2.86h-2.86zM686.71 327.76h2.86v2.86h-2.86zM666.71 330.61h5.71v2.86h-5.71zM681.00 330.61h8.57v2.86h-8.57zM666.71 333.47h5.71v2.86h-5.71zM683.86 333.47h5.71v2.86h-5.71zM666.71 336.33h5.71v2.86h-5.71zM681.00 336.33h2.86v2.86h-2.86zM686.71 336.33h5.71v2.86h-5.71zM666.71 339.19h5.71v2.86h-5.71zM678.14 339.19h2.86v2.86h-2.86zM689.57 339.19h8.57v2.86h-8.57zM666.71 342.04h5.71v2.86h-5.71zM692.43 342.04h5.71v2.86h-5.71z"/>
</g>
</svg>
</body></html>
